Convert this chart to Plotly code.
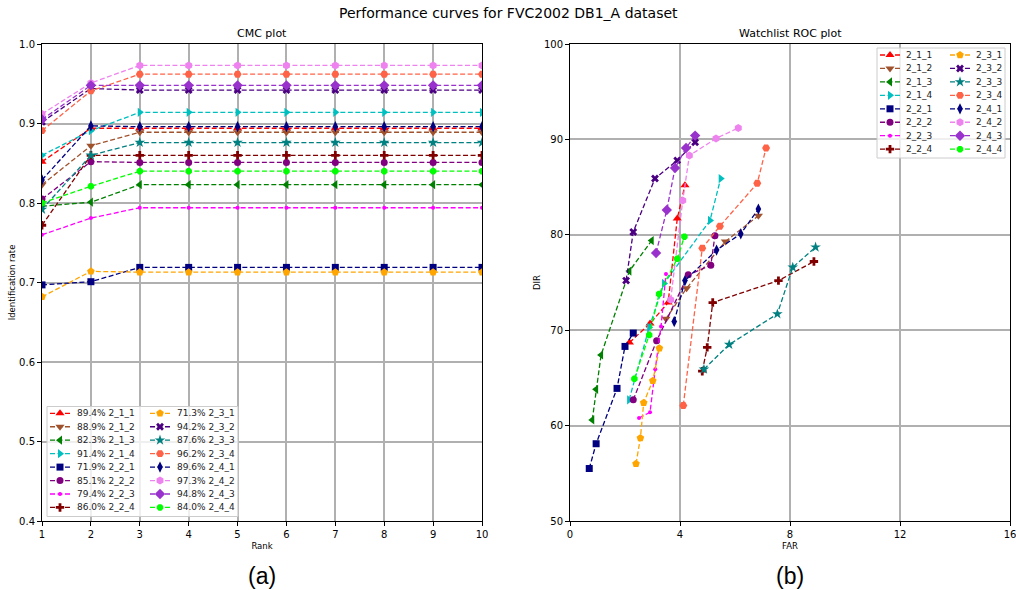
import plotly.graph_objects as go

W, H = 1016, 590

names = ["2_1_1", "2_1_2", "2_1_3", "2_1_4", "2_2_1", "2_2_2", "2_2_3", "2_2_4",
         "2_3_1", "2_3_2", "2_3_3", "2_3_4", "2_4_1", "2_4_2", "2_4_3", "2_4_4"]
cmc_labels = ["89.4%", "88.9%", "82.3%", "91.4%", "71.9%", "85.1%", "79.4%", "86.0%",
              "71.3%", "94.2%", "87.6%", "96.2%", "89.6%", "97.3%", "94.8%", "84.0%"]
colors = ["#ff0000", "#a0522d", "#008000", "#00bfbf", "#000080", "#800080", "#ff00ff", "#800000",
          "#ffa500", "#4b0082", "#008080", "#ff6347", "#000080", "#ee82ee", "#9932cc", "#00ff00"]
symbols = ["triangle-up", "triangle-down", "triangle-left", "triangle-right", "square", "circle",
           "circle", "cross", "pentagon", "x", "star", "hexagon2", "diamond-tall", "hexagon",
           "diamond", "octagon"]
msizes = [8, 8, 8, 8, 7, 7, 4, 7, 8, 7, 8, 8, 8, 8, 8, 7]

ranks = [1, 2, 3, 4, 5, 6, 7, 8, 9, 10]
cmc_2_1_1 = [0.852, 0.894, 0.894, 0.894, 0.894, 0.894, 0.894, 0.894, 0.894, 0.894]
cmc_2_1_2 = [0.823, 0.872, 0.889, 0.889, 0.889, 0.889, 0.889, 0.889, 0.889, 0.889]
cmc_2_1_3 = [0.796, 0.801, 0.823, 0.823, 0.823, 0.823, 0.823, 0.823, 0.823, 0.823]
cmc_2_1_4 = [0.860, 0.891, 0.914, 0.914, 0.914, 0.914, 0.914, 0.914, 0.914, 0.914]
cmc_2_2_1 = [0.697, 0.701, 0.719, 0.719, 0.719, 0.719, 0.719, 0.719, 0.719, 0.719]
cmc_2_2_2 = [0.805, 0.852, 0.851, 0.851, 0.851, 0.851, 0.851, 0.851, 0.851, 0.851]
cmc_2_2_3 = [0.760, 0.781, 0.794, 0.794, 0.794, 0.794, 0.794, 0.794, 0.794, 0.794]
cmc_2_2_4 = [0.772, 0.860, 0.860, 0.860, 0.860, 0.860, 0.860, 0.860, 0.860, 0.860]
cmc_2_3_1 = [0.682, 0.714, 0.713, 0.713, 0.713, 0.713, 0.713, 0.713, 0.713, 0.713]
cmc_2_3_2 = [0.902, 0.944, 0.942, 0.942, 0.942, 0.942, 0.942, 0.942, 0.942, 0.942]
cmc_2_3_3 = [0.792, 0.860, 0.876, 0.876, 0.876, 0.876, 0.876, 0.876, 0.876, 0.876]
cmc_2_3_4 = [0.891, 0.941, 0.962, 0.962, 0.962, 0.962, 0.962, 0.962, 0.962, 0.962]
cmc_2_4_1 = [0.829, 0.897, 0.896, 0.896, 0.896, 0.896, 0.896, 0.896, 0.896, 0.896]
cmc_2_4_2 = [0.912, 0.951, 0.973, 0.973, 0.973, 0.973, 0.973, 0.973, 0.973, 0.973]
cmc_2_4_3 = [0.905, 0.948, 0.948, 0.948, 0.948, 0.948, 0.948, 0.948, 0.948, 0.948]
cmc_2_4_4 = [0.800, 0.821, 0.840, 0.840, 0.840, 0.840, 0.840, 0.840, 0.840, 0.840]
cmc_values = [cmc_2_1_1, cmc_2_1_2, cmc_2_1_3, cmc_2_1_4, cmc_2_2_1, cmc_2_2_2, cmc_2_2_3, cmc_2_2_4,
              cmc_2_3_1, cmc_2_3_2, cmc_2_3_3, cmc_2_3_4, cmc_2_4_1, cmc_2_4_2, cmc_2_4_3, cmc_2_4_4]

far_2_1_1 = [2.16, 2.91, 3.57, 3.90, 4.18]
dir_2_1_1 = [68.7, 70.7, 72.9, 81.7, 85.2]
far_2_1_2 = [3.49, 4.24, 5.65, 6.85]
dir_2_1_2 = [71.2, 74.4, 79.3, 82.0]
far_2_1_3 = [0.81, 0.95, 1.13, 2.16, 2.97]
dir_2_1_3 = [60.6, 63.8, 67.4, 76.2, 79.4]
far_2_1_4 = [2.15, 2.88, 3.42, 5.09, 5.48]
dir_2_1_4 = [62.7, 70.3, 74.9, 81.5, 85.9]
far_2_2_1 = [0.70, 0.95, 1.71, 2.00, 2.30]
dir_2_2_1 = [55.5, 58.1, 63.9, 68.3, 69.7]
far_2_2_2 = [2.30, 3.15, 4.30, 5.12, 5.27]
dir_2_2_2 = [62.7, 68.9, 75.8, 76.8, 79.9]
far_2_2_3 = [2.51, 2.91, 3.10, 3.31, 3.49]
dir_2_2_3 = [60.8, 61.4, 65.9, 70.4, 75.9]
far_2_2_4 = [4.81, 4.99, 5.19, 7.58, 8.87]
dir_2_2_4 = [65.7, 68.2, 72.9, 75.2, 77.2]
far_2_3_1 = [2.40, 2.56, 2.68, 3.01, 3.25]
dir_2_3_1 = [56.0, 58.7, 62.4, 64.7, 68.1]
far_2_3_2 = [2.04, 2.30, 3.09, 3.90, 4.55]
dir_2_3_2 = [75.2, 80.3, 85.9, 87.8, 89.7]
far_2_3_3 = [4.87, 5.79, 7.54, 8.10, 8.93]
dir_2_3_3 = [65.9, 68.5, 71.7, 76.6, 78.7]
far_2_3_4 = [4.12, 4.81, 5.45, 6.81, 7.13]
dir_2_3_4 = [62.1, 78.6, 80.9, 85.4, 89.1]
far_2_4_1 = [3.79, 4.18, 5.33, 6.21, 6.85]
dir_2_4_1 = [70.9, 75.2, 78.4, 80.1, 82.7]
far_2_4_2 = [3.66, 4.10, 4.34, 5.31, 6.12]
dir_2_4_2 = [73.2, 83.6, 88.3, 90.1, 91.2]
far_2_4_3 = [3.13, 3.52, 3.82, 4.22, 4.55]
dir_2_4_3 = [78.1, 82.6, 87.0, 89.1, 90.4]
far_2_4_4 = [2.34, 2.88, 3.24, 3.90, 4.16]
dir_2_4_4 = [64.9, 69.5, 73.8, 77.5, 79.8]
far_values = [far_2_1_1, far_2_1_2, far_2_1_3, far_2_1_4, far_2_2_1, far_2_2_2, far_2_2_3, far_2_2_4,
              far_2_3_1, far_2_3_2, far_2_3_3, far_2_3_4, far_2_4_1, far_2_4_2, far_2_4_3, far_2_4_4]
dir_values = [dir_2_1_1, dir_2_1_2, dir_2_1_3, dir_2_1_4, dir_2_2_1, dir_2_2_2, dir_2_2_3, dir_2_2_4,
              dir_2_3_1, dir_2_3_2, dir_2_3_3, dir_2_3_4, dir_2_4_1, dir_2_4_2, dir_2_4_3, dir_2_4_4]

cmc_ticks = [0.4, 0.5, 0.6, 0.7, 0.8, 0.9, 1.0]
far_ticks = [0, 4, 8, 12, 16]
dir_ticks = [50, 60, 70, 80, 90, 100]

FONT = "DejaVu Sans"
DASH = "5px,2.5px"
LW = 1.3

fig = go.Figure()

for i, n in enumerate(names):
    fig.add_trace(go.Scatter(
        x=ranks, y=cmc_values[i], mode="lines+markers", name=n, showlegend=False,
        line=dict(color=colors[i], width=LW, dash=DASH),
        marker=dict(symbol=symbols[i], size=msizes[i], color=colors[i], line=dict(width=0)),
        xaxis="x", yaxis="y"))

for i, n in enumerate(names):
    fig.add_trace(go.Scatter(
        x=far_values[i], y=dir_values[i], mode="lines+markers", name=n, showlegend=False,
        line=dict(color=colors[i], width=LW, dash=DASH),
        marker=dict(symbol=symbols[i], size=msizes[i], color=colors[i], line=dict(width=0)),
        xaxis="x2", yaxis="y2"))

# ---- hand-built two-column legends on a pixel overlay axis ----
annotations = []
legends = [
    dict(box=(47, 238, 406.5, 516.5), sx=(50, 150), tx=(75, 175), y0=413.3, dy=13.45, pct=True),
    dict(box=(877, 1005, 48, 158), sx=(880, 950), tx=(904, 974), y0=55.0, dy=13.45, pct=False),
]
for lg in legends:
    bx0, bx1, by0, by1 = lg["box"]
    fig.add_trace(go.Scatter(x=[bx0, bx1, bx1, bx0, bx0], y=[by0, by0, by1, by1, by0],
                             mode="lines", fill="toself", fillcolor="rgba(255,255,255,0.8)",
                             line=dict(color="#cccccc", width=1), showlegend=False,
                             hoverinfo="skip", xaxis="x3", yaxis="y3"))
    for i, n in enumerate(names):
        col, row = divmod(i, 8)
        yy = lg["y0"] + row * lg["dy"]
        sx = lg["sx"][col]
        fig.add_trace(go.Scatter(x=[sx, sx + 20], y=[yy, yy], mode="lines", showlegend=False,
                                 hoverinfo="skip", line=dict(color=colors[i], width=LW, dash=DASH),
                                 xaxis="x3", yaxis="y3"))
        fig.add_trace(go.Scatter(x=[sx + 10], y=[yy], mode="markers", showlegend=False,
                                 hoverinfo="skip",
                                 marker=dict(symbol=symbols[i], size=msizes[i], color=colors[i],
                                             line=dict(width=0)),
                                 xaxis="x3", yaxis="y3"))
        label = (cmc_labels[i] + " " + n) if lg["pct"] else n
        annotations.append(dict(x=lg["tx"][col], y=yy, xref="x3", yref="y3", text=label,
                                showarrow=False, xanchor="left", yanchor="middle",
                                font=dict(family=FONT, size=9, color="#222")))

# titles
annotations += [
    dict(x=0.5, y=1 - 13 / H, xref="paper", yref="paper", text="Performance curves for FVC2002 DB1_A dataset",
         showarrow=False, xanchor="center", yanchor="middle", font=dict(family=FONT, size=14, color="#000")),
    dict(x=262 / W, y=1 - 34 / H, xref="paper", yref="paper", text="CMC plot",
         showarrow=False, xanchor="center", yanchor="middle", font=dict(family=FONT, size=11, color="#000")),
    dict(x=790 / W, y=1 - 34 / H, xref="paper", yref="paper", text="Watchlist ROC plot",
         showarrow=False, xanchor="center", yanchor="middle", font=dict(family=FONT, size=11, color="#000")),
    dict(x=262 / W, y=1 - 576 / H, xref="paper", yref="paper", text="(a)",
         showarrow=False, xanchor="center", yanchor="middle", font=dict(family="Liberation Sans", size=23, color="#000")),
    dict(x=790 / W, y=1 - 576 / H, xref="paper", yref="paper", text="(b)",
         showarrow=False, xanchor="center", yanchor="middle", font=dict(family="Liberation Sans", size=23, color="#000")),
]

ydom = [1 - 521 / H, 1 - 44 / H]
axis_common = dict(showline=True, linecolor="black", linewidth=1, mirror=True, ticks="outside",
                   ticklen=4, tickwidth=1, tickcolor="black", showgrid=True, gridcolor="#b0b0b0",
                   gridwidth=1.5, zeroline=False, automargin=False, ticklabeloverflow="allow",
                   tickfont=dict(family=FONT, size=10, color="#000"))
title_font = dict(family=FONT, size=8.5, color="#000")

fig.update_layout(
    width=W, height=H, margin=dict(l=0, r=0, t=0, b=0, autoexpand=False),
    paper_bgcolor="white", plot_bgcolor="rgba(0,0,0,0)", showlegend=False,
    xaxis=dict(domain=[42 / W, 482 / W], range=[1, 10], tickvals=ranks, anchor="y",
               title=dict(text="Rank", font=title_font, standoff=4), **axis_common),
    yaxis=dict(domain=ydom, range=[0.4, 1.0], tickvals=cmc_ticks, tickformat=".1f", anchor="x",
               title=dict(text="Identification rate", font=title_font, standoff=2), **axis_common),
    xaxis2=dict(domain=[570 / W, 1010 / W], range=[0, 16], tickvals=far_ticks, anchor="y2",
                title=dict(text="FAR", font=title_font, standoff=4), **axis_common),
    yaxis2=dict(domain=ydom, range=[50, 100], tickvals=dir_ticks, anchor="x2",
                title=dict(text="DIR", font=title_font, standoff=1), **axis_common),
    xaxis3=dict(domain=[0, 1], range=[0, W], visible=False, anchor="y3", fixedrange=True, automargin=False),
    yaxis3=dict(domain=[0, 1], range=[H, 0], visible=False, anchor="x3", fixedrange=True, automargin=False),
    annotations=annotations,
)

fig.write_html("out.html", post_script="document.body.style.margin='0';",
               config={"displayModeBar": False})
